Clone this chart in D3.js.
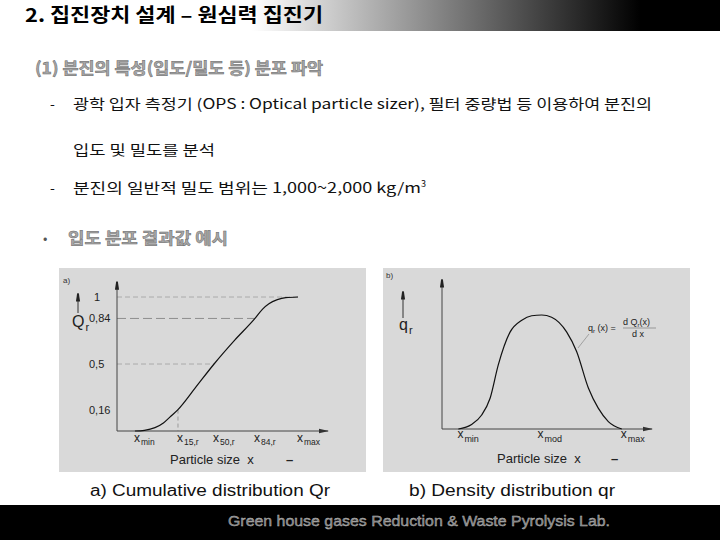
<!DOCTYPE html>
<html><head><meta charset="utf-8">
<script src="https://cdn.jsdelivr.net/npm/d3@7"></script>
<style>body{margin:0;background:#fff}svg{display:block}</style>
</head><body>
<svg id="c" width="720" height="540"></svg>
<script>
// ---------- data ----------
const cumX = [8.5, 13, 18, 22, 25.5, 28.9, 37, 46, 55.9, 65.4, 69, 72, 76, 80, 85.8];
const cumQ = [0, 0.005, 0.025, 0.06, 0.11, 0.16, 0.32, 0.5, 0.68, 0.84, 0.91, 0.95, 0.98, 0.995, 1.0];
const cumTickValues = [1, 0.84, 0.5, 0.16];
const cumTickLabels = ["1", "0,84", "0,5", "0,16"];
const cumGuideValues = [1, 0.84, 0.5];
const cumXMarks = [8.5, 28.9, 46, 65.4, 85.8];
const cumXSubs = ["min", "15,r", "50,r", "84,r", "max"];

const denX = [7.8, 14.1, 18.9, 22.9, 26.8, 32.4, 38.0, 42.7, 47.5, 52.2, 59.4, 64.1, 69.7, 74.4, 79.2, 85.6];
const denQ = [0, 0.03, 0.094, 0.206, 0.43, 0.65, 0.73, 0.76, 0.765, 0.75, 0.65, 0.52, 0.275, 0.14, 0.05, 0];
const denXMarks = [7.8, 46, 85.6];
const denXSubs = ["min", "mod", "max"];

const titleText = "2. 집진장치 설계 – 원심력 집진기";
const subtitleText = "(1) 분진의 특성(입도/밀도 등) 분포 파악";
const line1 = "광학 입자 측정기 (OPS : Optical particle sizer), 필터 중량법 등 이용하여 분진의";
const line2 = "입도 및 밀도를 분석";
const line3 = "분진의 일반적 밀도 범위는 1,000~2,000 kg/m";
const bulletText = "입도 분포 결과값 예시";
const captionA = "a) Cumulative distribution Qr";
const captionB = "b) Density distribution qr";
const footerText = "Green house gases Reduction & Waste Pyrolysis Lab.";

// ---------- drawing ----------
const svg = d3.select("#c");
const KR = "'Noto Sans CJK KR', 'Noto Sans', sans-serif";
const LAT = "'Liberation Sans', Arial, sans-serif";

const defs = svg.append("defs");
const grad = defs.append("linearGradient").attr("id", "tg").attr("x1", "0").attr("x2", "1").attr("y1", "0").attr("y2", "0");
grad.append("stop").attr("offset", "0.35").attr("stop-color", "#ffffff");
grad.append("stop").attr("offset", "0.89").attr("stop-color", "#000000");
defs.append("marker").attr("id", "arr").attr("viewBox", "0 0 10 6").attr("refX", 9).attr("refY", 3)
  .attr("markerWidth", 10).attr("markerHeight", 6).attr("markerUnits", "userSpaceOnUse").attr("orient", "auto")
  .append("path").attr("d", "M0,0.8 L10,3 L0,5.2 Z").attr("fill", "#333");
defs.append("marker").attr("id", "arrUp").attr("viewBox", "0 0 10 6").attr("refX", 9).attr("refY", 3)
  .attr("markerWidth", 9).attr("markerHeight", 5).attr("markerUnits", "userSpaceOnUse").attr("orient", "auto")
  .append("path").attr("d", "M0,0.5 L10,2 L10,4 L0,5.5 Z").attr("fill", "#222");

// header band
svg.append("rect").attr("x", 0).attr("y", 0).attr("width", 720).attr("height", 31).attr("fill", "url(#tg)");
svg.append("text").attr("x", 25).attr("y", 22).attr("font-family", KR).attr("font-weight", "bold")
  .attr("font-size", 19).attr("fill", "#000").attr("textLength", 298).attr("lengthAdjust", "spacingAndGlyphs").text(titleText);

// subtitle
svg.append("text").attr("x", 35).attr("y", 74).attr("font-family", KR).attr("font-weight", "bold")
  .attr("font-size", 16).attr("fill", "#a8a8a8").attr("stroke", "#6a6a6a").attr("stroke-width", 0.5)
  .attr("textLength", 288).attr("lengthAdjust", "spacingAndGlyphs").text(subtitleText);

// body lines
function dash(y) {
  svg.append("text").attr("x", 50).attr("y", y).attr("font-family", KR).attr("font-size", 14).attr("fill", "#111").text("-");
}
dash(109);
svg.append("text").attr("x", 73).attr("y", 109).attr("font-family", KR).attr("font-size", 14).attr("fill", "#111")
  .attr("textLength", 579).attr("lengthAdjust", "spacingAndGlyphs").text(line1);
svg.append("text").attr("x", 73).attr("y", 155).attr("font-family", KR).attr("font-size", 14).attr("fill", "#111")
  .attr("textLength", 142).attr("lengthAdjust", "spacingAndGlyphs").text(line2);
dash(193);
const t3 = svg.append("text").attr("x", 73).attr("y", 193).attr("font-family", KR).attr("font-size", 14).attr("fill", "#111");
t3.append("tspan").attr("textLength", 348).attr("lengthAdjust", "spacingAndGlyphs").text(line3);
t3.append("tspan").attr("font-size", 9).attr("dy", -6).text("3");

// bullet
svg.append("text").attr("x", 43).attr("y", 243).attr("font-family", KR).attr("font-size", 13).attr("fill", "#555").text("•");
svg.append("text").attr("x", 68).attr("y", 244).attr("font-family", KR).attr("font-weight", "bold")
  .attr("font-size", 16).attr("fill", "#a8a8a8").attr("stroke", "#6a6a6a").attr("stroke-width", 0.5)
  .attr("textLength", 160).attr("lengthAdjust", "spacingAndGlyphs").text(bulletText);

// ---------- panel a ----------
const gA = svg.append("g");
gA.append("rect").attr("x", 59).attr("y", 268).attr("width", 307).attr("height", 204).attr("fill", "#d9d9d9");
const xA = d3.scaleLinear().domain([0, 100]).range([117, 328]);
const yA = d3.scaleLinear().domain([0, 1]).range([431, 297]);

// guides
gA.selectAll("line.hg").data(cumGuideValues).enter().append("line")
  .attr("x1", xA(0)).attr("x2", v => xA(cumX[cumQ.indexOf(v)]))
  .attr("y1", v => yA(v)).attr("y2", v => yA(v))
  .attr("stroke", v => v === 0.84 ? "#7a7a7a" : "#a0a0a0").attr("stroke-width", 0.8)
  .attr("stroke-dasharray", v => v === 0.84 ? "9,4" : "5,3");
gA.append("line").attr("x1", xA(28.9)).attr("x2", xA(28.9)).attr("y1", yA(0.16)).attr("y2", yA(0))
  .attr("stroke", "#8a8a8a").attr("stroke-width", 0.8).attr("stroke-dasharray", "4,3");

// axes
gA.append("line").attr("x1", xA(0)).attr("y1", yA(0)).attr("x2", xA(0)).attr("y2", yA(1.11))
  .attr("stroke", "#444").attr("stroke-width", 1).attr("marker-end", "url(#arrUp)");
gA.append("line").attr("x1", xA(0)).attr("y1", yA(0)).attr("x2", xA(100)).attr("y2", yA(0))
  .attr("stroke", "#444").attr("stroke-width", 1).attr("marker-end", "url(#arr)");

// curve
const lineA = d3.line().x((d, i) => xA(cumX[i])).y(d => yA(d)).curve(d3.curveMonotoneX);
gA.append("path").attr("d", lineA(cumQ)).attr("fill", "none").attr("stroke", "#111").attr("stroke-width", 1.2);

// y labels
gA.selectAll("text.yl").data(cumTickValues).enter().append("text")
  .attr("x", (d, i) => i === 0 ? 94 : 89).attr("y", d => yA(d) + 4)
  .attr("font-family", LAT).attr("font-size", 11).attr("fill", "#222")
  .text((d, i) => cumTickLabels[i]);

// x labels
cumXMarks.forEach((v, i) => {
  const t = gA.append("text").attr("x", xA(v) - 1).attr("y", 442).attr("font-family", LAT).attr("font-size", 12).attr("fill", "#222");
  t.append("tspan").text("x");
  t.append("tspan").attr("font-size", 8.5).attr("dy", 3).attr("dx", 1).text(cumXSubs[i]);
});
gA.append("text").attr("x", 170).attr("y", 464).attr("font-family", LAT).attr("font-size", 13).attr("fill", "#222")
  .attr("xml:space", "preserve").text("Particle size  x");
gA.append("text").attr("x", 286).attr("y", 464).attr("font-family", LAT).attr("font-size", 13).attr("font-weight", "bold").attr("fill", "#222").text("–");
gA.append("text").attr("x", 63).attr("y", 283).attr("font-family", LAT).attr("font-size", 8).attr("fill", "#333").text("a)");
// Q_r with arrow
gA.append("line").attr("x1", 78).attr("y1", 313).attr("x2", 78).attr("y2", 294)
  .attr("stroke", "#333").attr("stroke-width", 1).attr("marker-end", "url(#arrUp)");
const qa = gA.append("text").attr("x", 72).attr("y", 327).attr("font-family", LAT).attr("font-size", 16).attr("fill", "#222");
qa.append("tspan").text("Q");
qa.append("tspan").attr("font-size", 11).attr("dy", 4).attr("dx", 1).text("r");

// ---------- panel b ----------
const gB = svg.append("g");
gB.append("rect").attr("x", 383).attr("y", 268).attr("width", 307).attr("height", 204).attr("fill", "#d9d9d9");
const xB = d3.scaleLinear().domain([0, 100]).range([442, 652]);
const yB = d3.scaleLinear().domain([0, 1]).range([429, 280]);

gB.append("line").attr("x1", xB(0)).attr("y1", yB(0)).attr("x2", xB(0)).attr("y2", yB(1))
  .attr("stroke", "#444").attr("stroke-width", 1).attr("marker-end", "url(#arrUp)");
gB.append("line").attr("x1", xB(0)).attr("y1", yB(0)).attr("x2", xB(100)).attr("y2", yB(0))
  .attr("stroke", "#444").attr("stroke-width", 1).attr("marker-end", "url(#arr)");

const lineB = d3.line().x((d, i) => xB(denX[i])).y(d => yB(d)).curve(d3.curveMonotoneX);
gB.append("path").attr("d", lineB(denQ)).attr("fill", "none").attr("stroke", "#111").attr("stroke-width", 1.2);

denXMarks.forEach((v, i) => {
  const t = gB.append("text").attr("x", xB(v) - 1).attr("y", 438).attr("font-family", LAT).attr("font-size", 12).attr("fill", "#222");
  t.append("tspan").text("x");
  t.append("tspan").attr("font-size", 9).attr("dy", 4).attr("dx", 1).text(denXSubs[i]);
});
gB.append("text").attr("x", 497).attr("y", 463).attr("font-family", LAT).attr("font-size", 13).attr("fill", "#222")
  .attr("xml:space", "preserve").text("Particle size  x");
gB.append("text").attr("x", 611).attr("y", 463).attr("font-family", LAT).attr("font-size", 13).attr("font-weight", "bold").attr("fill", "#222").text("–");
gB.append("text").attr("x", 386).attr("y", 278).attr("font-family", LAT).attr("font-size", 8).attr("fill", "#333").text("b)");
gB.append("line").attr("x1", 403).attr("y1", 318).attr("x2", 403).attr("y2", 292)
  .attr("stroke", "#333").attr("stroke-width", 1).attr("marker-end", "url(#arrUp)");
const qb = gB.append("text").attr("x", 399).attr("y", 330).attr("font-family", LAT).attr("font-size", 16).attr("fill", "#222");
qb.append("tspan").text("q");
qb.append("tspan").attr("font-size", 11).attr("dy", 4).attr("dx", 1).text("r");

// formula
const f1 = gB.append("text").attr("x", 588).attr("y", 331).attr("font-family", LAT).attr("font-size", 9).attr("fill", "#222");
f1.append("tspan").text("q");
f1.append("tspan").attr("font-size", 6).attr("dy", 2).text("r");
f1.append("tspan").attr("dy", -2).text(" (x) =");
const f2 = gB.append("text").attr("x", 623).attr("y", 325).attr("font-family", LAT).attr("font-size", 9).attr("fill", "#222");
f2.append("tspan").text("d Q");
f2.append("tspan").attr("font-size", 6).attr("dy", 2).text("r");
f2.append("tspan").attr("dy", -2).text("(x)");
gB.append("line").attr("x1", 623).attr("x2", 656).attr("y1", 328).attr("y2", 328).attr("stroke", "#555").attr("stroke-width", 0.5);
gB.append("text").attr("x", 632).attr("y", 337).attr("font-family", LAT).attr("font-size", 9).attr("fill", "#222").text("d x");
gB.append("line").attr("x1", 589).attr("y1", 334).attr("x2", 578).attr("y2", 348).attr("stroke", "#888").attr("stroke-width", 0.7);

// captions
svg.append("text").attr("x", 90).attr("y", 496).attr("font-family", LAT).attr("font-size", 16).attr("fill", "#111")
  .attr("textLength", 240).attr("lengthAdjust", "spacingAndGlyphs").text(captionA);
svg.append("text").attr("x", 409).attr("y", 496).attr("font-family", LAT).attr("font-size", 16).attr("fill", "#111")
  .attr("textLength", 206).attr("lengthAdjust", "spacingAndGlyphs").text(captionB);

// footer
svg.append("rect").attr("x", 0).attr("y", 505).attr("width", 720).attr("height", 35).attr("fill", "#000");
svg.append("text").attr("x", 228).attr("y", 526).attr("font-family", LAT).attr("font-size", 15).attr("fill", "#7a7a7a")
  .attr("stroke", "#bdbdbd").attr("stroke-width", 0.4)
  .attr("textLength", 382).attr("lengthAdjust", "spacingAndGlyphs").text(footerText);
</script>
</body></html>
